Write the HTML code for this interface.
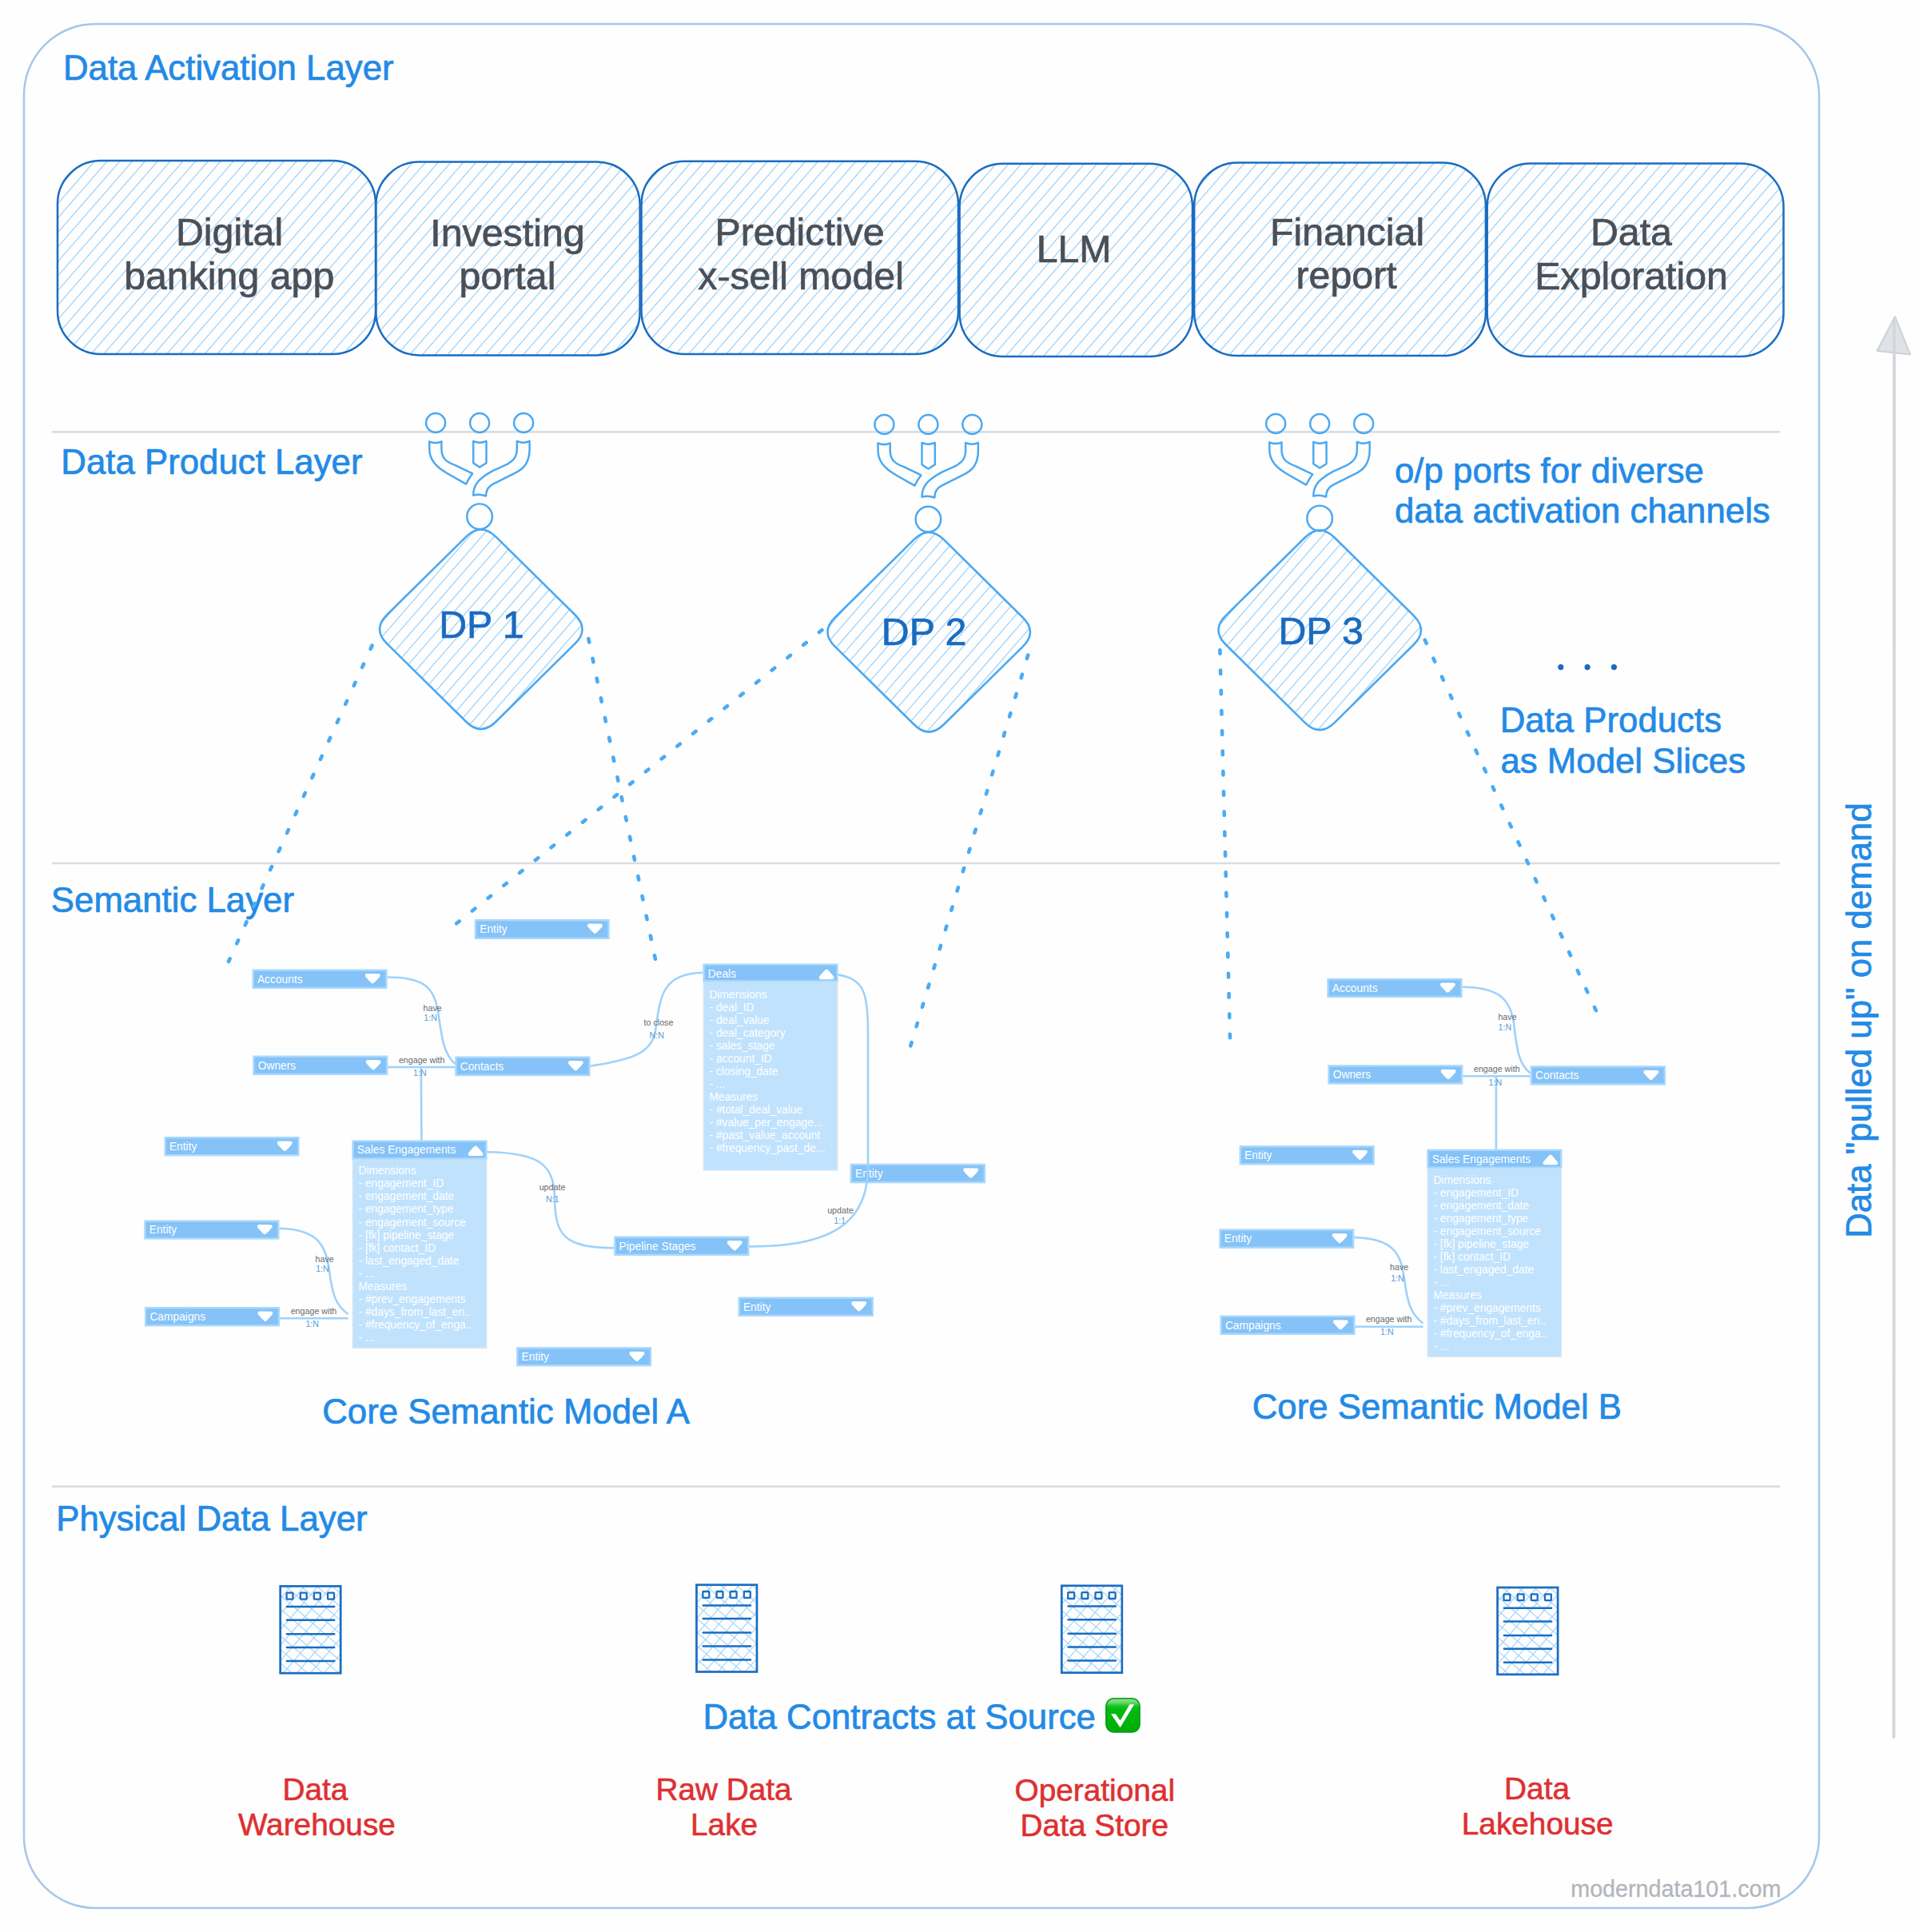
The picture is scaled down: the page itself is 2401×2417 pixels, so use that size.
<!DOCTYPE html><html><head><meta charset="utf-8"><style>html,body{margin:0;padding:0;background:#fefefe;}svg{display:block;font-family:"Liberation Sans",sans-serif;}</style></head><body>
<svg width="2401" height="2417" viewBox="0 0 2401 2417">
<defs>
<linearGradient id="gck" x1="0" y1="0" x2="0" y2="1"><stop offset="0" stop-color="#8fe38f"/><stop offset="0.12" stop-color="#6ad96d"/><stop offset="0.22" stop-color="#1cc42a"/><stop offset="0.3" stop-color="#02bd0e"/><stop offset="1" stop-color="#00ab0c"/></linearGradient>
</defs>
<rect width="2401" height="2417" fill="#fefefe"/>
<rect x="30" y="30" width="2246" height="2357" rx="89" ry="89" fill="none" stroke="#a6c7e9" stroke-width="2.5"/>
<line x1="65" y1="540.4" x2="2227" y2="540.4" stroke="#dadee3" stroke-width="2.6"/>
<line x1="65" y1="1080" x2="2227" y2="1080" stroke="#dadee3" stroke-width="2.6"/>
<line x1="65" y1="1859.6" x2="2227" y2="1859.6" stroke="#dadee3" stroke-width="2.6"/>
<text transform="translate(78.91,99.7) scale(1,1.01)" font-size="43.8" fill="#238ae6" stroke="#238ae6" stroke-width="0.7">Data Activation Layer</text>
<text transform="translate(76.31,592.8) scale(1,1.01)" font-size="43.8" fill="#238ae6" stroke="#238ae6" stroke-width="0.7">Data Product Layer</text>
<text transform="translate(63.84,1140.9) scale(1,1.01)" font-size="43.8" fill="#238ae6" stroke="#238ae6" stroke-width="0.7">Semantic Layer</text>
<text transform="translate(70.28,1915.2) scale(1,1.01)" font-size="43.8" fill="#238ae6" stroke="#238ae6" stroke-width="0.7">Physical Data Layer</text>
<clipPath id="c1"><rect x="72" y="201" width="398.0" height="242.0" rx="54" ry="54"/></clipPath><g clip-path="url(#c1)" stroke="#a2d5fd" stroke-width="1.35"><line x1="57.52" y1="199" x2="-156.32" y2="445"/><line x1="73.31" y1="199" x2="-140.53" y2="445"/><line x1="89.10" y1="199" x2="-124.74" y2="445"/><line x1="104.89" y1="199" x2="-108.95" y2="445"/><line x1="120.68" y1="199" x2="-93.16" y2="445"/><line x1="136.47" y1="199" x2="-77.37" y2="445"/><line x1="152.26" y1="199" x2="-61.58" y2="445"/><line x1="168.05" y1="199" x2="-45.79" y2="445"/><line x1="183.84" y1="199" x2="-30.00" y2="445"/><line x1="199.63" y1="199" x2="-14.21" y2="445"/><line x1="215.42" y1="199" x2="1.58" y2="445"/><line x1="231.21" y1="199" x2="17.37" y2="445"/><line x1="247.00" y1="199" x2="33.16" y2="445"/><line x1="262.79" y1="199" x2="48.95" y2="445"/><line x1="278.58" y1="199" x2="64.74" y2="445"/><line x1="294.37" y1="199" x2="80.53" y2="445"/><line x1="310.16" y1="199" x2="96.32" y2="445"/><line x1="325.95" y1="199" x2="112.11" y2="445"/><line x1="341.74" y1="199" x2="127.90" y2="445"/><line x1="357.53" y1="199" x2="143.69" y2="445"/><line x1="373.32" y1="199" x2="159.48" y2="445"/><line x1="389.11" y1="199" x2="175.27" y2="445"/><line x1="404.90" y1="199" x2="191.06" y2="445"/><line x1="420.69" y1="199" x2="206.85" y2="445"/><line x1="436.48" y1="199" x2="222.64" y2="445"/><line x1="452.27" y1="199" x2="238.43" y2="445"/><line x1="468.06" y1="199" x2="254.22" y2="445"/><line x1="483.85" y1="199" x2="270.01" y2="445"/><line x1="499.64" y1="199" x2="285.80" y2="445"/><line x1="515.43" y1="199" x2="301.59" y2="445"/><line x1="531.22" y1="199" x2="317.38" y2="445"/><line x1="547.01" y1="199" x2="333.17" y2="445"/><line x1="562.80" y1="199" x2="348.96" y2="445"/><line x1="578.59" y1="199" x2="364.75" y2="445"/><line x1="594.38" y1="199" x2="380.54" y2="445"/><line x1="610.17" y1="199" x2="396.33" y2="445"/><line x1="625.96" y1="199" x2="412.12" y2="445"/><line x1="641.75" y1="199" x2="427.91" y2="445"/><line x1="657.54" y1="199" x2="443.70" y2="445"/><line x1="673.33" y1="199" x2="459.49" y2="445"/><line x1="689.12" y1="199" x2="475.28" y2="445"/></g>
<rect x="72" y="201" width="398.0" height="242.0" rx="54" ry="54" fill="none" stroke="#1a6dc2" stroke-width="2.5"/>
<text transform="translate(219.97,307.2) scale(1,1.01)" font-size="48.3" fill="#4a5059" stroke="#4a5059" stroke-width="0.7">Digital</text>
<text transform="translate(155.16,361.9) scale(1,1.01)" font-size="48.3" fill="#4a5059" stroke="#4a5059" stroke-width="0.7">banking app</text>
<clipPath id="c2"><rect x="470.4" y="202.5" width="330.2" height="241.9" rx="54" ry="54"/></clipPath><g clip-path="url(#c2)" stroke="#a2d5fd" stroke-width="1.35"><line x1="455.76" y1="200.5" x2="242.00" y2="446.4"/><line x1="471.55" y1="200.5" x2="257.79" y2="446.4"/><line x1="487.34" y1="200.5" x2="273.58" y2="446.4"/><line x1="503.13" y1="200.5" x2="289.37" y2="446.4"/><line x1="518.92" y1="200.5" x2="305.16" y2="446.4"/><line x1="534.71" y1="200.5" x2="320.95" y2="446.4"/><line x1="550.50" y1="200.5" x2="336.74" y2="446.4"/><line x1="566.29" y1="200.5" x2="352.53" y2="446.4"/><line x1="582.08" y1="200.5" x2="368.32" y2="446.4"/><line x1="597.87" y1="200.5" x2="384.11" y2="446.4"/><line x1="613.66" y1="200.5" x2="399.90" y2="446.4"/><line x1="629.45" y1="200.5" x2="415.69" y2="446.4"/><line x1="645.24" y1="200.5" x2="431.48" y2="446.4"/><line x1="661.03" y1="200.5" x2="447.27" y2="446.4"/><line x1="676.82" y1="200.5" x2="463.06" y2="446.4"/><line x1="692.61" y1="200.5" x2="478.85" y2="446.4"/><line x1="708.40" y1="200.5" x2="494.64" y2="446.4"/><line x1="724.19" y1="200.5" x2="510.43" y2="446.4"/><line x1="739.98" y1="200.5" x2="526.22" y2="446.4"/><line x1="755.77" y1="200.5" x2="542.01" y2="446.4"/><line x1="771.56" y1="200.5" x2="557.80" y2="446.4"/><line x1="787.35" y1="200.5" x2="573.59" y2="446.4"/><line x1="803.14" y1="200.5" x2="589.38" y2="446.4"/><line x1="818.93" y1="200.5" x2="605.17" y2="446.4"/><line x1="834.72" y1="200.5" x2="620.96" y2="446.4"/><line x1="850.51" y1="200.5" x2="636.75" y2="446.4"/><line x1="866.30" y1="200.5" x2="652.54" y2="446.4"/><line x1="882.09" y1="200.5" x2="668.33" y2="446.4"/><line x1="897.88" y1="200.5" x2="684.12" y2="446.4"/><line x1="913.67" y1="200.5" x2="699.91" y2="446.4"/><line x1="929.46" y1="200.5" x2="715.70" y2="446.4"/><line x1="945.25" y1="200.5" x2="731.49" y2="446.4"/><line x1="961.04" y1="200.5" x2="747.28" y2="446.4"/><line x1="976.83" y1="200.5" x2="763.07" y2="446.4"/><line x1="992.62" y1="200.5" x2="778.86" y2="446.4"/><line x1="1008.41" y1="200.5" x2="794.65" y2="446.4"/><line x1="1024.20" y1="200.5" x2="810.44" y2="446.4"/></g>
<rect x="470.4" y="202.5" width="330.2" height="241.9" rx="54" ry="54" fill="none" stroke="#1a6dc2" stroke-width="2.5"/>
<text transform="translate(538.33,307.7) scale(1,1.01)" font-size="48.3" fill="#4a5059" stroke="#4a5059" stroke-width="0.7">Investing</text>
<text transform="translate(574.58,362.3) scale(1,1.01)" font-size="48.3" fill="#4a5059" stroke="#4a5059" stroke-width="0.7">portal</text>
<clipPath id="c3"><rect x="802.5" y="201.8" width="396.5" height="241.2" rx="54" ry="54"/></clipPath><g clip-path="url(#c3)" stroke="#a2d5fd" stroke-width="1.35"><line x1="788.54" y1="199.8" x2="575.39" y2="445"/><line x1="804.33" y1="199.8" x2="591.18" y2="445"/><line x1="820.12" y1="199.8" x2="606.97" y2="445"/><line x1="835.91" y1="199.8" x2="622.76" y2="445"/><line x1="851.70" y1="199.8" x2="638.55" y2="445"/><line x1="867.49" y1="199.8" x2="654.34" y2="445"/><line x1="883.28" y1="199.8" x2="670.13" y2="445"/><line x1="899.07" y1="199.8" x2="685.92" y2="445"/><line x1="914.86" y1="199.8" x2="701.71" y2="445"/><line x1="930.65" y1="199.8" x2="717.50" y2="445"/><line x1="946.44" y1="199.8" x2="733.29" y2="445"/><line x1="962.23" y1="199.8" x2="749.08" y2="445"/><line x1="978.02" y1="199.8" x2="764.87" y2="445"/><line x1="993.81" y1="199.8" x2="780.66" y2="445"/><line x1="1009.60" y1="199.8" x2="796.45" y2="445"/><line x1="1025.39" y1="199.8" x2="812.24" y2="445"/><line x1="1041.18" y1="199.8" x2="828.03" y2="445"/><line x1="1056.97" y1="199.8" x2="843.82" y2="445"/><line x1="1072.76" y1="199.8" x2="859.61" y2="445"/><line x1="1088.55" y1="199.8" x2="875.40" y2="445"/><line x1="1104.34" y1="199.8" x2="891.19" y2="445"/><line x1="1120.13" y1="199.8" x2="906.98" y2="445"/><line x1="1135.92" y1="199.8" x2="922.77" y2="445"/><line x1="1151.71" y1="199.8" x2="938.56" y2="445"/><line x1="1167.50" y1="199.8" x2="954.35" y2="445"/><line x1="1183.29" y1="199.8" x2="970.14" y2="445"/><line x1="1199.08" y1="199.8" x2="985.93" y2="445"/><line x1="1214.87" y1="199.8" x2="1001.72" y2="445"/><line x1="1230.66" y1="199.8" x2="1017.51" y2="445"/><line x1="1246.45" y1="199.8" x2="1033.30" y2="445"/><line x1="1262.24" y1="199.8" x2="1049.09" y2="445"/><line x1="1278.03" y1="199.8" x2="1064.88" y2="445"/><line x1="1293.82" y1="199.8" x2="1080.67" y2="445"/><line x1="1309.61" y1="199.8" x2="1096.46" y2="445"/><line x1="1325.40" y1="199.8" x2="1112.25" y2="445"/><line x1="1341.19" y1="199.8" x2="1128.04" y2="445"/><line x1="1356.98" y1="199.8" x2="1143.83" y2="445"/><line x1="1372.77" y1="199.8" x2="1159.62" y2="445"/><line x1="1388.56" y1="199.8" x2="1175.41" y2="445"/><line x1="1404.35" y1="199.8" x2="1191.20" y2="445"/><line x1="1420.14" y1="199.8" x2="1206.99" y2="445"/></g>
<rect x="802.5" y="201.8" width="396.5" height="241.2" rx="54" ry="54" fill="none" stroke="#1a6dc2" stroke-width="2.5"/>
<text transform="translate(894.57,307.3) scale(1,1.01)" font-size="48.3" fill="#4a5059" stroke="#4a5059" stroke-width="0.7">Predictive</text>
<text transform="translate(873.24,362) scale(1,1.01)" font-size="48.3" fill="#4a5059" stroke="#4a5059" stroke-width="0.7">x-sell model</text>
<clipPath id="c4"><rect x="1200.6" y="204.7" width="291.4" height="241.3" rx="54" ry="54"/></clipPath><g clip-path="url(#c4)" stroke="#a2d5fd" stroke-width="1.35"><line x1="1185.09" y1="202.7" x2="971.85" y2="448"/><line x1="1200.88" y1="202.7" x2="987.64" y2="448"/><line x1="1216.67" y1="202.7" x2="1003.43" y2="448"/><line x1="1232.46" y1="202.7" x2="1019.22" y2="448"/><line x1="1248.25" y1="202.7" x2="1035.01" y2="448"/><line x1="1264.04" y1="202.7" x2="1050.80" y2="448"/><line x1="1279.83" y1="202.7" x2="1066.59" y2="448"/><line x1="1295.62" y1="202.7" x2="1082.38" y2="448"/><line x1="1311.41" y1="202.7" x2="1098.17" y2="448"/><line x1="1327.20" y1="202.7" x2="1113.96" y2="448"/><line x1="1342.99" y1="202.7" x2="1129.75" y2="448"/><line x1="1358.78" y1="202.7" x2="1145.54" y2="448"/><line x1="1374.57" y1="202.7" x2="1161.33" y2="448"/><line x1="1390.36" y1="202.7" x2="1177.12" y2="448"/><line x1="1406.15" y1="202.7" x2="1192.91" y2="448"/><line x1="1421.94" y1="202.7" x2="1208.70" y2="448"/><line x1="1437.73" y1="202.7" x2="1224.49" y2="448"/><line x1="1453.52" y1="202.7" x2="1240.28" y2="448"/><line x1="1469.31" y1="202.7" x2="1256.07" y2="448"/><line x1="1485.10" y1="202.7" x2="1271.86" y2="448"/><line x1="1500.89" y1="202.7" x2="1287.65" y2="448"/><line x1="1516.68" y1="202.7" x2="1303.44" y2="448"/><line x1="1532.47" y1="202.7" x2="1319.23" y2="448"/><line x1="1548.26" y1="202.7" x2="1335.02" y2="448"/><line x1="1564.05" y1="202.7" x2="1350.81" y2="448"/><line x1="1579.84" y1="202.7" x2="1366.60" y2="448"/><line x1="1595.63" y1="202.7" x2="1382.39" y2="448"/><line x1="1611.42" y1="202.7" x2="1398.18" y2="448"/><line x1="1627.21" y1="202.7" x2="1413.97" y2="448"/><line x1="1643.00" y1="202.7" x2="1429.76" y2="448"/><line x1="1658.79" y1="202.7" x2="1445.55" y2="448"/><line x1="1674.58" y1="202.7" x2="1461.34" y2="448"/><line x1="1690.37" y1="202.7" x2="1477.13" y2="448"/><line x1="1706.16" y1="202.7" x2="1492.92" y2="448"/><line x1="1721.95" y1="202.7" x2="1508.71" y2="448"/></g>
<rect x="1200.6" y="204.7" width="291.4" height="241.3" rx="54" ry="54" fill="none" stroke="#1a6dc2" stroke-width="2.5"/>
<text transform="translate(1296.65,328) scale(1,1.01)" font-size="48.3" fill="#4a5059" stroke="#4a5059" stroke-width="0.7">LLM</text>
<clipPath id="c5"><rect x="1494.2" y="203.5" width="364.7" height="241.6" rx="54" ry="54"/></clipPath><g clip-path="url(#c5)" stroke="#a2d5fd" stroke-width="1.35"><line x1="1480.46" y1="201.5" x2="1266.96" y2="447.1"/><line x1="1496.25" y1="201.5" x2="1282.75" y2="447.1"/><line x1="1512.04" y1="201.5" x2="1298.54" y2="447.1"/><line x1="1527.83" y1="201.5" x2="1314.33" y2="447.1"/><line x1="1543.62" y1="201.5" x2="1330.12" y2="447.1"/><line x1="1559.41" y1="201.5" x2="1345.91" y2="447.1"/><line x1="1575.20" y1="201.5" x2="1361.70" y2="447.1"/><line x1="1590.99" y1="201.5" x2="1377.49" y2="447.1"/><line x1="1606.78" y1="201.5" x2="1393.28" y2="447.1"/><line x1="1622.57" y1="201.5" x2="1409.07" y2="447.1"/><line x1="1638.36" y1="201.5" x2="1424.86" y2="447.1"/><line x1="1654.15" y1="201.5" x2="1440.65" y2="447.1"/><line x1="1669.94" y1="201.5" x2="1456.44" y2="447.1"/><line x1="1685.73" y1="201.5" x2="1472.23" y2="447.1"/><line x1="1701.52" y1="201.5" x2="1488.02" y2="447.1"/><line x1="1717.31" y1="201.5" x2="1503.81" y2="447.1"/><line x1="1733.10" y1="201.5" x2="1519.60" y2="447.1"/><line x1="1748.89" y1="201.5" x2="1535.39" y2="447.1"/><line x1="1764.68" y1="201.5" x2="1551.18" y2="447.1"/><line x1="1780.47" y1="201.5" x2="1566.97" y2="447.1"/><line x1="1796.26" y1="201.5" x2="1582.76" y2="447.1"/><line x1="1812.05" y1="201.5" x2="1598.55" y2="447.1"/><line x1="1827.84" y1="201.5" x2="1614.34" y2="447.1"/><line x1="1843.63" y1="201.5" x2="1630.13" y2="447.1"/><line x1="1859.42" y1="201.5" x2="1645.92" y2="447.1"/><line x1="1875.21" y1="201.5" x2="1661.71" y2="447.1"/><line x1="1891.00" y1="201.5" x2="1677.50" y2="447.1"/><line x1="1906.79" y1="201.5" x2="1693.29" y2="447.1"/><line x1="1922.58" y1="201.5" x2="1709.08" y2="447.1"/><line x1="1938.37" y1="201.5" x2="1724.87" y2="447.1"/><line x1="1954.16" y1="201.5" x2="1740.66" y2="447.1"/><line x1="1969.95" y1="201.5" x2="1756.45" y2="447.1"/><line x1="1985.74" y1="201.5" x2="1772.24" y2="447.1"/><line x1="2001.53" y1="201.5" x2="1788.03" y2="447.1"/><line x1="2017.32" y1="201.5" x2="1803.82" y2="447.1"/><line x1="2033.11" y1="201.5" x2="1819.61" y2="447.1"/><line x1="2048.90" y1="201.5" x2="1835.40" y2="447.1"/><line x1="2064.69" y1="201.5" x2="1851.19" y2="447.1"/><line x1="2080.48" y1="201.5" x2="1866.98" y2="447.1"/></g>
<rect x="1494.2" y="203.5" width="364.7" height="241.6" rx="54" ry="54" fill="none" stroke="#1a6dc2" stroke-width="2.5"/>
<text transform="translate(1588.92,306.5) scale(1,1.01)" font-size="48.3" fill="#4a5059" stroke="#4a5059" stroke-width="0.7">Financial</text>
<text transform="translate(1621.53,361.3) scale(1,1.01)" font-size="48.3" fill="#4a5059" stroke="#4a5059" stroke-width="0.7">report</text>
<clipPath id="c6"><rect x="1860.7" y="204.6" width="370.8" height="241.4" rx="54" ry="54"/></clipPath><g clip-path="url(#c6)" stroke="#a2d5fd" stroke-width="1.35"><line x1="1844.68" y1="202.6" x2="1631.36" y2="448"/><line x1="1860.47" y1="202.6" x2="1647.15" y2="448"/><line x1="1876.26" y1="202.6" x2="1662.94" y2="448"/><line x1="1892.05" y1="202.6" x2="1678.73" y2="448"/><line x1="1907.84" y1="202.6" x2="1694.52" y2="448"/><line x1="1923.63" y1="202.6" x2="1710.31" y2="448"/><line x1="1939.42" y1="202.6" x2="1726.10" y2="448"/><line x1="1955.21" y1="202.6" x2="1741.89" y2="448"/><line x1="1971.00" y1="202.6" x2="1757.68" y2="448"/><line x1="1986.79" y1="202.6" x2="1773.47" y2="448"/><line x1="2002.58" y1="202.6" x2="1789.26" y2="448"/><line x1="2018.37" y1="202.6" x2="1805.05" y2="448"/><line x1="2034.16" y1="202.6" x2="1820.84" y2="448"/><line x1="2049.95" y1="202.6" x2="1836.63" y2="448"/><line x1="2065.74" y1="202.6" x2="1852.42" y2="448"/><line x1="2081.53" y1="202.6" x2="1868.21" y2="448"/><line x1="2097.32" y1="202.6" x2="1884.00" y2="448"/><line x1="2113.11" y1="202.6" x2="1899.79" y2="448"/><line x1="2128.90" y1="202.6" x2="1915.58" y2="448"/><line x1="2144.69" y1="202.6" x2="1931.37" y2="448"/><line x1="2160.48" y1="202.6" x2="1947.16" y2="448"/><line x1="2176.27" y1="202.6" x2="1962.95" y2="448"/><line x1="2192.06" y1="202.6" x2="1978.74" y2="448"/><line x1="2207.85" y1="202.6" x2="1994.53" y2="448"/><line x1="2223.64" y1="202.6" x2="2010.32" y2="448"/><line x1="2239.43" y1="202.6" x2="2026.11" y2="448"/><line x1="2255.22" y1="202.6" x2="2041.90" y2="448"/><line x1="2271.01" y1="202.6" x2="2057.69" y2="448"/><line x1="2286.80" y1="202.6" x2="2073.48" y2="448"/><line x1="2302.59" y1="202.6" x2="2089.27" y2="448"/><line x1="2318.38" y1="202.6" x2="2105.06" y2="448"/><line x1="2334.17" y1="202.6" x2="2120.85" y2="448"/><line x1="2349.96" y1="202.6" x2="2136.64" y2="448"/><line x1="2365.75" y1="202.6" x2="2152.43" y2="448"/><line x1="2381.54" y1="202.6" x2="2168.22" y2="448"/><line x1="2397.33" y1="202.6" x2="2184.01" y2="448"/><line x1="2413.12" y1="202.6" x2="2199.80" y2="448"/><line x1="2428.91" y1="202.6" x2="2215.59" y2="448"/><line x1="2444.70" y1="202.6" x2="2231.38" y2="448"/><line x1="2460.49" y1="202.6" x2="2247.17" y2="448"/></g>
<rect x="1860.7" y="204.6" width="370.8" height="241.4" rx="54" ry="54" fill="none" stroke="#1a6dc2" stroke-width="2.5"/>
<text transform="translate(1989.96,306.8) scale(1,1.01)" font-size="48.3" fill="#4a5059" stroke="#4a5059" stroke-width="0.7">Data</text>
<text transform="translate(1920.32,361.6) scale(1,1.01)" font-size="48.3" fill="#4a5059" stroke="#4a5059" stroke-width="0.7">Exploration</text>
<line x1="465.5" y1="807.7" x2="286" y2="1203" stroke="#4aabf5" stroke-width="4.6" stroke-linecap="round" stroke-dasharray="4.5 20.8"/>
<line x1="736.3" y1="799" x2="820" y2="1200.2" stroke="#4aabf5" stroke-width="4.6" stroke-linecap="round" stroke-dasharray="4.5 20.8"/>
<line x1="1028.4" y1="788.2" x2="566.2" y2="1159.3" stroke="#4aabf5" stroke-width="4.6" stroke-linecap="round" stroke-dasharray="4.5 20.8"/>
<line x1="1286.2" y1="819.5" x2="1139.2" y2="1308.8" stroke="#4aabf5" stroke-width="4.6" stroke-linecap="round" stroke-dasharray="4.5 20.8"/>
<line x1="1526.4" y1="813.2" x2="1539" y2="1298.8" stroke="#4aabf5" stroke-width="4.6" stroke-linecap="round" stroke-dasharray="4.5 20.8"/>
<line x1="1782.8" y1="800.7" x2="1998.4" y2="1267.5" stroke="#4aabf5" stroke-width="4.6" stroke-linecap="round" stroke-dasharray="4.5 20.8"/>
<g transform="translate(600.1,529)" fill="none" stroke="#4aa8f2" stroke-width="2.45" stroke-linejoin="round"><circle cx="-55" cy="0" r="12"/><circle cx="0" cy="0" r="12"/><circle cx="55" cy="0" r="12"/><path d="M-62.9,23.3 Q-55,26.8 -47.7,23.3 L-47.7,32.6 C-47.7,44 -42,49 -30.8,52.8 L-9,63.4 Q-13.5,69 -16.9,76.6 L-40,63.5 C-55,55 -62.9,46 -62.9,32 Z"/><path d="M-7.9,22.9 Q0,26.8 8.4,22.9 L8.4,50.2 L0,55.5 L-7.9,50.2 Z"/><path d="M46.7,22.9 Q54.6,26.8 62.5,22.9 L62.5,32.6 C62.5,50 55,58 43.1,63.4 L16.7,76.6 C10,80 7.9,85 7.9,91.5 Q0,88.3 -7.9,90.7 C-7.9,78 -2,70 16.7,59.9 L34.3,51.9 C43,47 46.7,42 46.7,32.6 Z"/><circle cx="0" cy="117.20000000000005" r="15.8"/></g>
<g transform="translate(1161.4,531)" fill="none" stroke="#4aa8f2" stroke-width="2.45" stroke-linejoin="round"><circle cx="-55" cy="0" r="12"/><circle cx="0" cy="0" r="12"/><circle cx="55" cy="0" r="12"/><path d="M-62.9,23.3 Q-55,26.8 -47.7,23.3 L-47.7,32.6 C-47.7,44 -42,49 -30.8,52.8 L-9,63.4 Q-13.5,69 -16.9,76.6 L-40,63.5 C-55,55 -62.9,46 -62.9,32 Z"/><path d="M-7.9,22.9 Q0,26.8 8.4,22.9 L8.4,50.2 L0,55.5 L-7.9,50.2 Z"/><path d="M46.7,22.9 Q54.6,26.8 62.5,22.9 L62.5,32.6 C62.5,50 55,58 43.1,63.4 L16.7,76.6 C10,80 7.9,85 7.9,91.5 Q0,88.3 -7.9,90.7 C-7.9,78 -2,70 16.7,59.9 L34.3,51.9 C43,47 46.7,42 46.7,32.6 Z"/><circle cx="0" cy="118.60000000000002" r="15.8"/></g>
<g transform="translate(1651.2,530)" fill="none" stroke="#4aa8f2" stroke-width="2.45" stroke-linejoin="round"><circle cx="-55" cy="0" r="12"/><circle cx="0" cy="0" r="12"/><circle cx="55" cy="0" r="12"/><path d="M-62.9,23.3 Q-55,26.8 -47.7,23.3 L-47.7,32.6 C-47.7,44 -42,49 -30.8,52.8 L-9,63.4 Q-13.5,69 -16.9,76.6 L-40,63.5 C-55,55 -62.9,46 -62.9,32 Z"/><path d="M-7.9,22.9 Q0,26.8 8.4,22.9 L8.4,50.2 L0,55.5 L-7.9,50.2 Z"/><path d="M46.7,22.9 Q54.6,26.8 62.5,22.9 L62.5,32.6 C62.5,50 55,58 43.1,63.4 L16.7,76.6 C10,80 7.9,85 7.9,91.5 Q0,88.3 -7.9,90.7 C-7.9,78 -2,70 16.7,59.9 L34.3,51.9 C43,47 46.7,42 46.7,32.6 Z"/><circle cx="0" cy="118.39999999999998" r="15.8"/></g>
<clipPath id="c7"><path d="M583.3,671.4 Q601.8,653.2 620.3,671.4 L719.3,769.0 Q737.8,787.2 719.3,805.4 L620.3,903.0 Q601.8,921.2 583.3,903.0 L484.3,805.4 Q465.8,787.2 484.3,769.0 Z"/></clipPath><g clip-path="url(#c7)" stroke="#a2d5fd" stroke-width="1.35"><line x1="462.25" y1="651.2" x2="225.80" y2="923.2"/><line x1="478.04" y1="651.2" x2="241.59" y2="923.2"/><line x1="493.83" y1="651.2" x2="257.38" y2="923.2"/><line x1="509.62" y1="651.2" x2="273.17" y2="923.2"/><line x1="525.41" y1="651.2" x2="288.96" y2="923.2"/><line x1="541.20" y1="651.2" x2="304.75" y2="923.2"/><line x1="556.99" y1="651.2" x2="320.54" y2="923.2"/><line x1="572.78" y1="651.2" x2="336.33" y2="923.2"/><line x1="588.57" y1="651.2" x2="352.12" y2="923.2"/><line x1="604.36" y1="651.2" x2="367.91" y2="923.2"/><line x1="620.15" y1="651.2" x2="383.70" y2="923.2"/><line x1="635.94" y1="651.2" x2="399.49" y2="923.2"/><line x1="651.73" y1="651.2" x2="415.28" y2="923.2"/><line x1="667.52" y1="651.2" x2="431.07" y2="923.2"/><line x1="683.31" y1="651.2" x2="446.86" y2="923.2"/><line x1="699.10" y1="651.2" x2="462.65" y2="923.2"/><line x1="714.89" y1="651.2" x2="478.44" y2="923.2"/><line x1="730.68" y1="651.2" x2="494.23" y2="923.2"/><line x1="746.47" y1="651.2" x2="510.02" y2="923.2"/><line x1="762.26" y1="651.2" x2="525.81" y2="923.2"/><line x1="778.05" y1="651.2" x2="541.60" y2="923.2"/><line x1="793.84" y1="651.2" x2="557.39" y2="923.2"/><line x1="809.63" y1="651.2" x2="573.18" y2="923.2"/><line x1="825.42" y1="651.2" x2="588.97" y2="923.2"/><line x1="841.21" y1="651.2" x2="604.76" y2="923.2"/><line x1="857.00" y1="651.2" x2="620.55" y2="923.2"/><line x1="872.79" y1="651.2" x2="636.34" y2="923.2"/><line x1="888.58" y1="651.2" x2="652.13" y2="923.2"/><line x1="904.37" y1="651.2" x2="667.92" y2="923.2"/><line x1="920.16" y1="651.2" x2="683.71" y2="923.2"/><line x1="935.95" y1="651.2" x2="699.50" y2="923.2"/><line x1="951.74" y1="651.2" x2="715.29" y2="923.2"/><line x1="967.53" y1="651.2" x2="731.08" y2="923.2"/><line x1="983.32" y1="651.2" x2="746.87" y2="923.2"/></g>
<path d="M583.3,671.4 Q601.8,653.2 620.3,671.4 L719.3,769.0 Q737.8,787.2 719.3,805.4 L620.3,903.0 Q601.8,921.2 583.3,903.0 L484.3,805.4 Q465.8,787.2 484.3,769.0 Z" fill="none" stroke="#4aa8f2" stroke-width="2.6"/>
<text transform="translate(549.15,797.6) scale(1,1.01)" font-size="48.3" fill="#1a6bbf" stroke="#1a6bbf" stroke-width="0.7">DP 1</text>
<clipPath id="c8"><path d="M1143.7,674.9 Q1162.2,656.7 1180.7,674.9 L1279.7,772.5 Q1298.2,790.7 1279.7,808.9 L1180.7,906.5 Q1162.2,924.7 1143.7,906.5 L1044.7,808.9 Q1026.2,790.7 1044.7,772.5 Z"/></clipPath><g clip-path="url(#c8)" stroke="#a2d5fd" stroke-width="1.35"><line x1="1023.30" y1="654.7" x2="786.85" y2="926.7"/><line x1="1039.09" y1="654.7" x2="802.64" y2="926.7"/><line x1="1054.88" y1="654.7" x2="818.43" y2="926.7"/><line x1="1070.67" y1="654.7" x2="834.22" y2="926.7"/><line x1="1086.46" y1="654.7" x2="850.01" y2="926.7"/><line x1="1102.25" y1="654.7" x2="865.80" y2="926.7"/><line x1="1118.04" y1="654.7" x2="881.59" y2="926.7"/><line x1="1133.83" y1="654.7" x2="897.38" y2="926.7"/><line x1="1149.62" y1="654.7" x2="913.17" y2="926.7"/><line x1="1165.41" y1="654.7" x2="928.96" y2="926.7"/><line x1="1181.20" y1="654.7" x2="944.75" y2="926.7"/><line x1="1196.99" y1="654.7" x2="960.54" y2="926.7"/><line x1="1212.78" y1="654.7" x2="976.33" y2="926.7"/><line x1="1228.57" y1="654.7" x2="992.12" y2="926.7"/><line x1="1244.36" y1="654.7" x2="1007.91" y2="926.7"/><line x1="1260.15" y1="654.7" x2="1023.70" y2="926.7"/><line x1="1275.94" y1="654.7" x2="1039.49" y2="926.7"/><line x1="1291.73" y1="654.7" x2="1055.28" y2="926.7"/><line x1="1307.52" y1="654.7" x2="1071.07" y2="926.7"/><line x1="1323.31" y1="654.7" x2="1086.86" y2="926.7"/><line x1="1339.10" y1="654.7" x2="1102.65" y2="926.7"/><line x1="1354.89" y1="654.7" x2="1118.44" y2="926.7"/><line x1="1370.68" y1="654.7" x2="1134.23" y2="926.7"/><line x1="1386.47" y1="654.7" x2="1150.02" y2="926.7"/><line x1="1402.26" y1="654.7" x2="1165.81" y2="926.7"/><line x1="1418.05" y1="654.7" x2="1181.60" y2="926.7"/><line x1="1433.84" y1="654.7" x2="1197.39" y2="926.7"/><line x1="1449.63" y1="654.7" x2="1213.18" y2="926.7"/><line x1="1465.42" y1="654.7" x2="1228.97" y2="926.7"/><line x1="1481.21" y1="654.7" x2="1244.76" y2="926.7"/><line x1="1497.00" y1="654.7" x2="1260.55" y2="926.7"/><line x1="1512.79" y1="654.7" x2="1276.34" y2="926.7"/><line x1="1528.58" y1="654.7" x2="1292.13" y2="926.7"/><line x1="1544.37" y1="654.7" x2="1307.92" y2="926.7"/></g>
<path d="M1143.7,674.9 Q1162.2,656.7 1180.7,674.9 L1279.7,772.5 Q1298.2,790.7 1279.7,808.9 L1180.7,906.5 Q1162.2,924.7 1143.7,906.5 L1044.7,808.9 Q1026.2,790.7 1044.7,772.5 Z" fill="none" stroke="#4aa8f2" stroke-width="2.6"/>
<text transform="translate(1102.85,807.4) scale(1,1.01)" font-size="48.3" fill="#1a6bbf" stroke="#1a6bbf" stroke-width="0.7">DP 2</text>
<clipPath id="c9"><path d="M1632.7,672.5 Q1651.2,654.3 1669.7,672.5 L1768.7,770.1 Q1787.2,788.3 1768.7,806.5 L1669.7,904.1 Q1651.2,922.3 1632.7,904.1 L1533.7,806.5 Q1515.2,788.3 1533.7,770.1 Z"/></clipPath><g clip-path="url(#c9)" stroke="#a2d5fd" stroke-width="1.35"><line x1="1512.38" y1="652.3" x2="1275.94" y2="924.3"/><line x1="1528.17" y1="652.3" x2="1291.73" y2="924.3"/><line x1="1543.96" y1="652.3" x2="1307.52" y2="924.3"/><line x1="1559.75" y1="652.3" x2="1323.31" y2="924.3"/><line x1="1575.54" y1="652.3" x2="1339.10" y2="924.3"/><line x1="1591.33" y1="652.3" x2="1354.89" y2="924.3"/><line x1="1607.12" y1="652.3" x2="1370.68" y2="924.3"/><line x1="1622.91" y1="652.3" x2="1386.47" y2="924.3"/><line x1="1638.70" y1="652.3" x2="1402.26" y2="924.3"/><line x1="1654.49" y1="652.3" x2="1418.05" y2="924.3"/><line x1="1670.28" y1="652.3" x2="1433.84" y2="924.3"/><line x1="1686.07" y1="652.3" x2="1449.63" y2="924.3"/><line x1="1701.86" y1="652.3" x2="1465.42" y2="924.3"/><line x1="1717.65" y1="652.3" x2="1481.21" y2="924.3"/><line x1="1733.44" y1="652.3" x2="1497.00" y2="924.3"/><line x1="1749.23" y1="652.3" x2="1512.79" y2="924.3"/><line x1="1765.02" y1="652.3" x2="1528.58" y2="924.3"/><line x1="1780.81" y1="652.3" x2="1544.37" y2="924.3"/><line x1="1796.60" y1="652.3" x2="1560.16" y2="924.3"/><line x1="1812.39" y1="652.3" x2="1575.95" y2="924.3"/><line x1="1828.18" y1="652.3" x2="1591.74" y2="924.3"/><line x1="1843.97" y1="652.3" x2="1607.53" y2="924.3"/><line x1="1859.76" y1="652.3" x2="1623.32" y2="924.3"/><line x1="1875.55" y1="652.3" x2="1639.11" y2="924.3"/><line x1="1891.34" y1="652.3" x2="1654.90" y2="924.3"/><line x1="1907.13" y1="652.3" x2="1670.69" y2="924.3"/><line x1="1922.92" y1="652.3" x2="1686.48" y2="924.3"/><line x1="1938.71" y1="652.3" x2="1702.27" y2="924.3"/><line x1="1954.50" y1="652.3" x2="1718.06" y2="924.3"/><line x1="1970.29" y1="652.3" x2="1733.85" y2="924.3"/><line x1="1986.08" y1="652.3" x2="1749.64" y2="924.3"/><line x1="2001.87" y1="652.3" x2="1765.43" y2="924.3"/><line x1="2017.66" y1="652.3" x2="1781.22" y2="924.3"/><line x1="2033.45" y1="652.3" x2="1797.01" y2="924.3"/></g>
<path d="M1632.7,672.5 Q1651.2,654.3 1669.7,672.5 L1768.7,770.1 Q1787.2,788.3 1768.7,806.5 L1669.7,904.1 Q1651.2,922.3 1632.7,904.1 L1533.7,806.5 Q1515.2,788.3 1533.7,770.1 Z" fill="none" stroke="#4aa8f2" stroke-width="2.6"/>
<text transform="translate(1599.40,805.7) scale(1,1.01)" font-size="48.3" fill="#1a6bbf" stroke="#1a6bbf" stroke-width="0.7">DP 3</text>
<text transform="translate(1745.02,603.7) scale(1,1.01)" font-size="43.8" fill="#238ae6" stroke="#238ae6" stroke-width="0.7">o/p ports for diverse</text>
<text transform="translate(1745.01,653.5) scale(1,1.01)" font-size="43.8" fill="#238ae6" stroke="#238ae6" stroke-width="0.7">data activation channels</text>
<circle cx="1952.8" cy="834.6" r="3.6" fill="#1a6bbf"/>
<circle cx="1986.1" cy="834.6" r="3.6" fill="#1a6bbf"/>
<circle cx="2019.4" cy="834.6" r="3.6" fill="#1a6bbf"/>
<text transform="translate(1876.63,916.4) scale(1,1.01)" font-size="43.8" fill="#238ae6" stroke="#238ae6" stroke-width="0.7">Data Products</text>
<text transform="translate(1877.43,967.3) scale(1,1.01)" font-size="43.8" fill="#238ae6" stroke="#238ae6" stroke-width="0.7">as Model Slices</text>
<path d="M484.7,1222.5 C530,1222.5 543,1235 548,1265 C553,1300 555,1318 569.5,1331" fill="none" stroke="#9ed2fc" stroke-width="2.6"/>
<path d="M485.3,1335 L569.3,1335" fill="none" stroke="#9ed2fc" stroke-width="2.6"/>
<path d="M526.8,1335 L527.4,1427" fill="none" stroke="#9ed2fc" stroke-width="2.6"/>
<path d="M738.6,1333.6 C790,1326 815,1318 820,1290 C826,1250 826,1218 879.4,1216.8" fill="none" stroke="#9ed2fc" stroke-width="2.6"/>
<path d="M609.6,1441.2 C680,1442 693,1460 694,1500 C695,1545 705,1561 768.3,1561.3" fill="none" stroke="#9ed2fc" stroke-width="2.6"/>
<path d="M349.5,1536.8 C400,1538 408,1560 412,1590 C416,1620 420,1633 435.6,1644" fill="none" stroke="#9ed2fc" stroke-width="2.6"/>
<path d="M350.2,1649.2 L435.6,1649.2" fill="none" stroke="#9ed2fc" stroke-width="2.6"/>
<path d="M1829.7,1234.7 C1875,1235 1890,1250 1894,1280 C1898,1315 1900,1330 1914.3,1342.5" fill="none" stroke="#9ed2fc" stroke-width="2.6"/>
<path d="M1830.3,1346.2 L1914.3,1346.2" fill="none" stroke="#9ed2fc" stroke-width="2.6"/>
<path d="M1871.9,1346.2 L1871.9,1437.8" fill="none" stroke="#9ed2fc" stroke-width="2.6"/>
<path d="M1694.4,1548.1 C1745,1549 1753,1570 1757,1600 C1761,1630 1765,1644 1780.6,1655.5" fill="none" stroke="#9ed2fc" stroke-width="2.6"/>
<path d="M1695.4,1659.7 L1780.6,1659.7" fill="none" stroke="#9ed2fc" stroke-width="2.6"/>
<text x="541.1" y="1264.7" font-size="10.7" fill="#666a70" text-anchor="middle" >have</text>
<text x="538.6" y="1277" font-size="10.7" fill="#5b9bd5" text-anchor="middle" >1:N</text>
<text x="527.7" y="1330" font-size="10.7" fill="#666a70" text-anchor="middle" >engage with</text>
<text x="525.4" y="1345.8" font-size="10.7" fill="#5b9bd5" text-anchor="middle" >1:N</text>
<text x="824" y="1283.2" font-size="10.7" fill="#666a70" text-anchor="middle" >to close</text>
<text x="821.8" y="1298.9" font-size="10.7" fill="#5b9bd5" text-anchor="middle" >N:N</text>
<text x="691" y="1489.4" font-size="10.7" fill="#666a70" text-anchor="middle" >update</text>
<text x="691.2" y="1504" font-size="10.7" fill="#5b9bd5" text-anchor="middle" >N:1</text>
<text x="1051.5" y="1518" font-size="10.7" fill="#666a70" text-anchor="middle" >update</text>
<text x="1050.8" y="1530.6" font-size="10.7" fill="#5b9bd5" text-anchor="middle" >1:1</text>
<text x="406.2" y="1578.8" font-size="10.7" fill="#666a70" text-anchor="middle" >have</text>
<text x="403.5" y="1590.8" font-size="10.7" fill="#5b9bd5" text-anchor="middle" >1:N</text>
<text x="392.5" y="1643.7" font-size="10.7" fill="#666a70" text-anchor="middle" >engage with</text>
<text x="390.7" y="1660" font-size="10.7" fill="#5b9bd5" text-anchor="middle" >1:N</text>
<text x="1886" y="1276.3" font-size="10.7" fill="#666a70" text-anchor="middle" >have</text>
<text x="1882.9" y="1288.8" font-size="10.7" fill="#5b9bd5" text-anchor="middle" >1:N</text>
<text x="1872.8" y="1341" font-size="10.7" fill="#666a70" text-anchor="middle" >engage with</text>
<text x="1870.8" y="1357.6" font-size="10.7" fill="#5b9bd5" text-anchor="middle" >1:N</text>
<text x="1750.7" y="1589.4" font-size="10.7" fill="#666a70" text-anchor="middle" >have</text>
<text x="1748.5" y="1602.5" font-size="10.7" fill="#5b9bd5" text-anchor="middle" >1:N</text>
<text x="1737.7" y="1654.4" font-size="10.7" fill="#666a70" text-anchor="middle" >engage with</text>
<text x="1735.4" y="1670" font-size="10.7" fill="#5b9bd5" text-anchor="middle" >1:N</text>
<rect x="595.0" y="1151.2" width="166.5" height="22.6" fill="#84c2f8" stroke="#a9d8fc" stroke-width="2.4"/>
<text x="600.1999999999999" y="1167" font-size="13.8" fill="#ffffff" text-anchor="start" >Entity</text>
<path d="M737.0,1155.6 L751.8,1155.8 Q754.5,1156.1999999999998 753.6,1159.0 Q750.0,1163.6 746.0,1167.1999999999998 Q744.4,1168.6 742.8,1167.1999999999998 Q738.8,1163.6 735.3,1159.1999999999998 Q734.3,1156.1999999999998 737.0,1155.6 Z" fill="#ffffff"/>
<rect x="316.7" y="1213.7" width="166.7" height="22.1" fill="#84c2f8" stroke="#a9d8fc" stroke-width="2.4"/>
<text x="321.9" y="1229.5" font-size="13.8" fill="#ffffff" text-anchor="start" >Accounts</text>
<path d="M458.90000000000003,1218.1 L473.70000000000005,1218.3 Q476.40000000000003,1218.6999999999998 475.50000000000006,1221.5 Q471.90000000000003,1226.1 467.90000000000003,1229.6999999999998 Q466.3,1231.1 464.70000000000005,1229.6999999999998 Q460.70000000000005,1226.1 457.20000000000005,1221.6999999999998 Q456.20000000000005,1218.6999999999998 458.90000000000003,1218.1 Z" fill="#ffffff"/>
<rect x="317.5" y="1321.7" width="166.7" height="22.1" fill="#84c2f8" stroke="#a9d8fc" stroke-width="2.4"/>
<text x="322.7" y="1337.5" font-size="13.8" fill="#ffffff" text-anchor="start" >Owners</text>
<path d="M459.7,1326.1 L474.5,1326.3 Q477.2,1326.6999999999998 476.3,1329.5 Q472.7,1334.1 468.7,1337.6999999999998 Q467.09999999999997,1339.1 465.5,1337.6999999999998 Q461.5,1334.1 458.0,1329.6999999999998 Q457.0,1326.6999999999998 459.7,1326.1 Z" fill="#ffffff"/>
<rect x="570.5" y="1322.7" width="166.9" height="22.4" fill="#84c2f8" stroke="#a9d8fc" stroke-width="2.4"/>
<text x="575.6999999999999" y="1338.5" font-size="13.8" fill="#ffffff" text-anchor="start" >Contacts</text>
<path d="M712.9,1327.1 L727.6999999999999,1327.3 Q730.4,1327.6999999999998 729.5,1330.5 Q725.9,1335.1 721.9,1338.6999999999998 Q720.3,1340.1 718.6999999999999,1338.6999999999998 Q714.6999999999999,1335.1 711.1999999999999,1330.6999999999998 Q710.1999999999999,1327.6999999999998 712.9,1327.1 Z" fill="#ffffff"/>
<rect x="206.7" y="1423.2" width="166.7" height="22.0" fill="#84c2f8" stroke="#a9d8fc" stroke-width="2.4"/>
<text x="211.9" y="1439" font-size="13.8" fill="#ffffff" text-anchor="start" >Entity</text>
<path d="M348.90000000000003,1427.6 L363.70000000000005,1427.8 Q366.40000000000003,1428.1999999999998 365.50000000000006,1431.0 Q361.90000000000003,1435.6 357.90000000000003,1439.1999999999998 Q356.3,1440.6 354.70000000000005,1439.1999999999998 Q350.70000000000005,1435.6 347.20000000000005,1431.1999999999998 Q346.20000000000005,1428.1999999999998 348.90000000000003,1427.6 Z" fill="#ffffff"/>
<rect x="181.5" y="1527.6000000000001" width="166.8" height="21.8" fill="#84c2f8" stroke="#a9d8fc" stroke-width="2.4"/>
<text x="186.70000000000002" y="1543.4" font-size="13.8" fill="#ffffff" text-anchor="start" >Entity</text>
<path d="M323.8,1532.0 L338.6,1532.2 Q341.3,1532.6 340.40000000000003,1535.4 Q336.8,1540.0 332.8,1543.6 Q331.2,1545.0 329.6,1543.6 Q325.6,1540.0 322.1,1535.6 Q321.1,1532.6 323.8,1532.0 Z" fill="#ffffff"/>
<rect x="182.2" y="1636.2" width="166.8" height="22.0" fill="#84c2f8" stroke="#a9d8fc" stroke-width="2.4"/>
<text x="187.4" y="1652" font-size="13.8" fill="#ffffff" text-anchor="start" >Campaigns</text>
<path d="M324.5,1640.6 L339.3,1640.8 Q342.0,1641.1999999999998 341.1,1644.0 Q337.5,1648.6 333.5,1652.1999999999998 Q331.9,1653.6 330.3,1652.1999999999998 Q326.3,1648.6 322.8,1644.1999999999998 Q321.8,1641.1999999999998 324.5,1640.6 Z" fill="#ffffff"/>
<rect x="769.4000000000001" y="1547.7" width="166.9" height="22.1" fill="#84c2f8" stroke="#a9d8fc" stroke-width="2.4"/>
<text x="774.6" y="1563.5" font-size="13.8" fill="#ffffff" text-anchor="start" >Pipeline Stages</text>
<path d="M911.8,1552.1 L926.5999999999999,1552.3 Q929.3,1552.6999999999998 928.4,1555.5 Q924.8,1560.1 920.8,1563.6999999999998 Q919.1999999999999,1565.1 917.5999999999999,1563.6999999999998 Q913.5999999999999,1560.1 910.0999999999999,1555.6999999999998 Q909.0999999999999,1552.6999999999998 911.8,1552.1 Z" fill="#ffffff"/>
<rect x="1064.9" y="1456.9" width="166.9" height="22.2" fill="#84c2f8" stroke="#a9d8fc" stroke-width="2.4"/>
<text x="1070.1000000000001" y="1472.7" font-size="13.8" fill="#ffffff" text-anchor="start" >Entity</text>
<path d="M1207.3,1461.3 L1222.1,1461.5 Q1224.8,1461.8999999999999 1223.8999999999999,1464.7 Q1220.3,1469.3 1216.3,1472.8999999999999 Q1214.7,1474.3 1213.1,1472.8999999999999 Q1209.1,1469.3 1205.6,1464.8999999999999 Q1204.6,1461.8999999999999 1207.3,1461.3 Z" fill="#ffffff"/>
<rect x="924.7" y="1623.7" width="167.1" height="22.1" fill="#84c2f8" stroke="#a9d8fc" stroke-width="2.4"/>
<text x="929.9" y="1639.5" font-size="13.8" fill="#ffffff" text-anchor="start" >Entity</text>
<path d="M1067.3,1628.1 L1082.1,1628.3 Q1084.8,1628.6999999999998 1083.8999999999999,1631.5 Q1080.3,1636.1 1076.3,1639.6999999999998 Q1074.7,1641.1 1073.1,1639.6999999999998 Q1069.1,1636.1 1065.6,1631.6999999999998 Q1064.6,1628.6999999999998 1067.3,1628.1 Z" fill="#ffffff"/>
<rect x="647.3000000000001" y="1686.4" width="166.7" height="21.8" fill="#84c2f8" stroke="#a9d8fc" stroke-width="2.4"/>
<text x="652.5" y="1702.2" font-size="13.8" fill="#ffffff" text-anchor="start" >Entity</text>
<path d="M789.5,1690.8 L804.3,1691.0 Q807.0,1691.3999999999999 806.1,1694.2 Q802.5,1698.8 798.5,1702.3999999999999 Q796.9,1703.8 795.3,1702.3999999999999 Q791.3,1698.8 787.8,1694.3999999999999 Q786.8,1691.3999999999999 789.5,1690.8 Z" fill="#ffffff"/>
<rect x="1661.6000000000001" y="1225.0" width="166.9" height="22.0" fill="#84c2f8" stroke="#a9d8fc" stroke-width="2.4"/>
<text x="1666.8000000000002" y="1240.8" font-size="13.8" fill="#ffffff" text-anchor="start" >Accounts</text>
<path d="M1804.0,1229.3999999999999 L1818.8,1229.6 Q1821.5,1229.9999999999998 1820.6,1232.8 Q1817.0,1237.3999999999999 1813.0,1240.9999999999998 Q1811.4,1242.3999999999999 1809.8,1240.9999999999998 Q1805.8,1237.3999999999999 1802.3,1232.9999999999998 Q1801.3,1229.9999999999998 1804.0,1229.3999999999999 Z" fill="#ffffff"/>
<rect x="1662.5" y="1333.4" width="166.7" height="22.0" fill="#84c2f8" stroke="#a9d8fc" stroke-width="2.4"/>
<text x="1667.7" y="1349.2" font-size="13.8" fill="#ffffff" text-anchor="start" >Owners</text>
<path d="M1804.7,1337.8 L1819.5,1338.0 Q1822.2,1338.3999999999999 1821.3,1341.2 Q1817.7,1345.8 1813.7,1349.3999999999999 Q1812.1000000000001,1350.8 1810.5,1349.3999999999999 Q1806.5,1345.8 1803.0,1341.3999999999999 Q1802.0,1338.3999999999999 1804.7,1337.8 Z" fill="#ffffff"/>
<rect x="1915.8" y="1334.4" width="167.0" height="22.0" fill="#84c2f8" stroke="#a9d8fc" stroke-width="2.4"/>
<text x="1921.0" y="1350.2" font-size="13.8" fill="#ffffff" text-anchor="start" >Contacts</text>
<path d="M2058.3,1338.8 L2073.1000000000004,1339.0 Q2075.8,1339.3999999999999 2074.9,1342.2 Q2071.3,1346.8 2067.3,1350.3999999999999 Q2065.7000000000003,1351.8 2064.1000000000004,1350.3999999999999 Q2060.1000000000004,1346.8 2056.6000000000004,1342.3999999999999 Q2055.6000000000004,1339.3999999999999 2058.3,1338.8 Z" fill="#ffffff"/>
<rect x="1551.8" y="1434.3" width="166.8" height="22.0" fill="#84c2f8" stroke="#a9d8fc" stroke-width="2.4"/>
<text x="1557.0" y="1450.1" font-size="13.8" fill="#ffffff" text-anchor="start" >Entity</text>
<path d="M1694.1,1438.6999999999998 L1708.8999999999999,1438.8999999999999 Q1711.6,1439.2999999999997 1710.6999999999998,1442.1 Q1707.1,1446.6999999999998 1703.1,1450.2999999999997 Q1701.5,1451.6999999999998 1699.8999999999999,1450.2999999999997 Q1695.8999999999999,1446.6999999999998 1692.3999999999999,1442.2999999999997 Q1691.3999999999999,1439.2999999999997 1694.1,1438.6999999999998 Z" fill="#ffffff"/>
<rect x="1526.5" y="1538.6000000000001" width="166.7" height="22.1" fill="#84c2f8" stroke="#a9d8fc" stroke-width="2.4"/>
<text x="1531.7" y="1554.4" font-size="13.8" fill="#ffffff" text-anchor="start" >Entity</text>
<path d="M1668.7,1543.0 L1683.5,1543.2 Q1686.2,1543.6 1685.3,1546.4 Q1681.7,1551.0 1677.7,1554.6 Q1676.1000000000001,1556.0 1674.5,1554.6 Q1670.5,1551.0 1667.0,1546.6 Q1666.0,1543.6 1668.7,1543.0 Z" fill="#ffffff"/>
<rect x="1527.7" y="1646.8" width="166.7" height="22.0" fill="#84c2f8" stroke="#a9d8fc" stroke-width="2.4"/>
<text x="1532.9" y="1662.6" font-size="13.8" fill="#ffffff" text-anchor="start" >Campaigns</text>
<path d="M1669.8999999999999,1651.1999999999998 L1684.6999999999998,1651.3999999999999 Q1687.3999999999999,1651.7999999999997 1686.4999999999998,1654.6 Q1682.8999999999999,1659.1999999999998 1678.8999999999999,1662.7999999999997 Q1677.3,1664.1999999999998 1675.6999999999998,1662.7999999999997 Q1671.6999999999998,1659.1999999999998 1668.1999999999998,1654.7999999999997 Q1667.1999999999998,1651.7999999999997 1669.8999999999999,1651.1999999999998 Z" fill="#ffffff"/>
<rect x="880.4" y="1228.5" width="167.3" height="235.5" fill="#c0e2fd" stroke="#d8e6f2" stroke-width="1.5"/>
<rect x="880.6" y="1206.7" width="166.9" height="20.6" fill="#84c2f8" stroke="#a9d8fc" stroke-width="2.4"/>
<text x="885.8" y="1222.5" font-size="13.8" fill="#ffffff" text-anchor="start" >Deals</text>
<path d="M1026.9,1225.2 L1041.5,1225.2 Q1044.3,1224.8 1043.3,1221.8 Q1038.7,1216.2 1035.7,1213.2 Q1034.2,1211.8 1032.7,1213.2 Q1029.2,1216.7 1025.1000000000001,1221.6000000000001 Q1024.1000000000001,1224.6000000000001 1026.9,1225.2 Z" fill="#ffffff"/>
<text x="887.5" y="1248.5" font-size="13.8" fill="#ffffff" text-anchor="start" >Dimensions</text>
<text x="887.5" y="1264.53" font-size="13.8" fill="#ffffff" text-anchor="start" >- deal_ID</text>
<text x="887.5" y="1280.56" font-size="13.8" fill="#ffffff" text-anchor="start" >- deal_value</text>
<text x="887.5" y="1296.59" font-size="13.8" fill="#ffffff" text-anchor="start" >- deal_category</text>
<text x="887.5" y="1312.62" font-size="13.8" fill="#ffffff" text-anchor="start" >- sales_stage</text>
<text x="887.5" y="1328.65" font-size="13.8" fill="#ffffff" text-anchor="start" >- account_ID</text>
<text x="887.5" y="1344.68" font-size="13.8" fill="#ffffff" text-anchor="start" >- closing_date</text>
<text x="887.5" y="1360.71" font-size="13.8" fill="#ffffff" text-anchor="start" >- ...</text>
<text x="887.5" y="1376.74" font-size="13.8" fill="#ffffff" text-anchor="start" >Measures</text>
<text x="887.5" y="1392.77" font-size="13.8" fill="#ffffff" text-anchor="start" >- #total_deal_value</text>
<text x="887.5" y="1408.8" font-size="13.8" fill="#ffffff" text-anchor="start" >- #value_per_engage...</text>
<text x="887.5" y="1424.83" font-size="13.8" fill="#ffffff" text-anchor="start" >- #past_value_account</text>
<text x="887.5" y="1440.8600000000001" font-size="13.8" fill="#ffffff" text-anchor="start" >- #frequency_past_de...</text>
<rect x="441.4" y="1450.6" width="167.2" height="235.8" fill="#c0e2fd" stroke="#d8e6f2" stroke-width="1.5"/>
<rect x="441.59999999999997" y="1427.6000000000001" width="166.8" height="21.8" fill="#84c2f8" stroke="#a9d8fc" stroke-width="2.4"/>
<text x="446.79999999999995" y="1443.4" font-size="13.8" fill="#ffffff" text-anchor="start" >Sales Engagements</text>
<path d="M587.8000000000001,1446.1000000000001 L602.4,1446.1000000000001 Q605.2,1445.7 604.2,1442.7 Q599.6,1437.1000000000001 596.6,1434.1000000000001 Q595.1,1432.7 593.6,1434.1000000000001 Q590.1,1437.6000000000001 586.0,1442.5000000000002 Q585.0,1445.5000000000002 587.8000000000001,1446.1000000000001 Z" fill="#ffffff"/>
<text x="448.5" y="1469.4" font-size="13.8" fill="#ffffff" text-anchor="start" >Dimensions</text>
<text x="448.5" y="1485.43" font-size="13.8" fill="#ffffff" text-anchor="start" >- engagement_ID</text>
<text x="448.5" y="1501.46" font-size="13.8" fill="#ffffff" text-anchor="start" >- engagement_date</text>
<text x="448.5" y="1517.49" font-size="13.8" fill="#ffffff" text-anchor="start" >- engagement_type</text>
<text x="448.5" y="1533.52" font-size="13.8" fill="#ffffff" text-anchor="start" >- engagement_source</text>
<text x="448.5" y="1549.5500000000002" font-size="13.8" fill="#ffffff" text-anchor="start" >- [fk] pipeline_stage</text>
<text x="448.5" y="1565.5800000000002" font-size="13.8" fill="#ffffff" text-anchor="start" >- [fk] contact_ID</text>
<text x="448.5" y="1581.6100000000001" font-size="13.8" fill="#ffffff" text-anchor="start" >- last_engaged_date</text>
<text x="448.5" y="1597.64" font-size="13.8" fill="#ffffff" text-anchor="start" >- ...</text>
<text x="448.5" y="1613.67" font-size="13.8" fill="#ffffff" text-anchor="start" >Measures</text>
<text x="448.5" y="1629.7" font-size="13.8" fill="#ffffff" text-anchor="start" >- #prev_engagements</text>
<text x="448.5" y="1645.73" font-size="13.8" fill="#ffffff" text-anchor="start" >- #days_from_last_en..</text>
<text x="448.5" y="1661.7600000000002" font-size="13.8" fill="#ffffff" text-anchor="start" >- #frequency_of_enga..</text>
<text x="448.5" y="1677.7900000000002" font-size="13.8" fill="#ffffff" text-anchor="start" >- ...</text>
<rect x="1786.3" y="1461.8" width="167.1" height="235.4" fill="#c0e2fd" stroke="#d8e6f2" stroke-width="1.5"/>
<rect x="1786.5" y="1438.8" width="166.7" height="21.8" fill="#84c2f8" stroke="#a9d8fc" stroke-width="2.4"/>
<text x="1791.7" y="1454.6" font-size="13.8" fill="#ffffff" text-anchor="start" >Sales Engagements</text>
<path d="M1932.6000000000001,1457.3 L1947.2,1457.3 Q1950.0,1456.8999999999999 1949.0,1453.8999999999999 Q1944.4,1448.3 1941.4,1445.3 Q1939.9,1443.8999999999999 1938.4,1445.3 Q1934.9,1448.8 1930.8000000000002,1453.7 Q1929.8000000000002,1456.7 1932.6000000000001,1457.3 Z" fill="#ffffff"/>
<text x="1793.3999999999999" y="1480.6" font-size="13.8" fill="#ffffff" text-anchor="start" >Dimensions</text>
<text x="1793.3999999999999" y="1496.6299999999999" font-size="13.8" fill="#ffffff" text-anchor="start" >- engagement_ID</text>
<text x="1793.3999999999999" y="1512.6599999999999" font-size="13.8" fill="#ffffff" text-anchor="start" >- engagement_date</text>
<text x="1793.3999999999999" y="1528.6899999999998" font-size="13.8" fill="#ffffff" text-anchor="start" >- engagement_type</text>
<text x="1793.3999999999999" y="1544.7199999999998" font-size="13.8" fill="#ffffff" text-anchor="start" >- engagement_source</text>
<text x="1793.3999999999999" y="1560.75" font-size="13.8" fill="#ffffff" text-anchor="start" >- [fk] pipeline_stage</text>
<text x="1793.3999999999999" y="1576.78" font-size="13.8" fill="#ffffff" text-anchor="start" >- [fk] contact_ID</text>
<text x="1793.3999999999999" y="1592.81" font-size="13.8" fill="#ffffff" text-anchor="start" >- last_engaged_date</text>
<text x="1793.3999999999999" y="1608.84" font-size="13.8" fill="#ffffff" text-anchor="start" >- ...</text>
<text x="1793.3999999999999" y="1624.87" font-size="13.8" fill="#ffffff" text-anchor="start" >Measures</text>
<text x="1793.3999999999999" y="1640.8999999999999" font-size="13.8" fill="#ffffff" text-anchor="start" >- #prev_engagements</text>
<text x="1793.3999999999999" y="1656.9299999999998" font-size="13.8" fill="#ffffff" text-anchor="start" >- #days_from_last_en..</text>
<text x="1793.3999999999999" y="1672.96" font-size="13.8" fill="#ffffff" text-anchor="start" >- #frequency_of_enga..</text>
<text x="1793.3999999999999" y="1688.99" font-size="13.8" fill="#ffffff" text-anchor="start" >- ...</text>
<path d="M1048.7,1219.4 C1080,1225 1086,1240 1086,1290 L1086,1460 C1086,1530 1040,1560 937.5,1559.4" fill="none" stroke="#9ed2fc" stroke-width="2.6"/>
<text transform="translate(403.16,1780.8) scale(1,1.01)" font-size="43.8" fill="#238ae6" stroke="#238ae6" stroke-width="0.7">Core Semantic Model A</text>
<text transform="translate(1566.74,1775.2) scale(1,1.01)" font-size="43.8" fill="#238ae6" stroke="#238ae6" stroke-width="0.7">Core Semantic Model B</text>
<clipPath id="c10"><rect x="350.7" y="1984.3999999999999" width="75.5" height="108.8"/></clipPath><g clip-path="url(#c10)" stroke="#a2d5fd" stroke-width="1.2"><line x1="348.24" y1="1983.1" x2="251.75" y2="2094.1"/><line x1="365.20" y1="1983.1" x2="268.71" y2="2094.1"/><line x1="382.16" y1="1983.1" x2="285.67" y2="2094.1"/><line x1="399.12" y1="1983.1" x2="302.63" y2="2094.1"/><line x1="416.08" y1="1983.1" x2="319.59" y2="2094.1"/><line x1="433.04" y1="1983.1" x2="336.55" y2="2094.1"/><line x1="450.00" y1="1983.1" x2="353.51" y2="2094.1"/><line x1="466.96" y1="1983.1" x2="370.47" y2="2094.1"/><line x1="483.92" y1="1983.1" x2="387.43" y2="2094.1"/><line x1="500.88" y1="1983.1" x2="404.39" y2="2094.1"/><line x1="517.84" y1="1983.1" x2="421.35" y2="2094.1"/><line x1="534.80" y1="1983.1" x2="438.31" y2="2094.1"/></g>
<clipPath id="c11"><rect x="350.7" y="1984.3999999999999" width="75.5" height="108.8"/></clipPath><g clip-path="url(#c11)" stroke="#a2d5fd" stroke-width="1.2"><line x1="219.30" y1="1983.1" x2="346.99" y2="2094.1"/><line x1="238.80" y1="1983.1" x2="366.49" y2="2094.1"/><line x1="258.30" y1="1983.1" x2="385.99" y2="2094.1"/><line x1="277.80" y1="1983.1" x2="405.49" y2="2094.1"/><line x1="297.30" y1="1983.1" x2="424.99" y2="2094.1"/><line x1="316.80" y1="1983.1" x2="444.49" y2="2094.1"/><line x1="336.30" y1="1983.1" x2="463.99" y2="2094.1"/><line x1="355.80" y1="1983.1" x2="483.49" y2="2094.1"/><line x1="375.30" y1="1983.1" x2="502.99" y2="2094.1"/><line x1="394.80" y1="1983.1" x2="522.49" y2="2094.1"/><line x1="414.30" y1="1983.1" x2="541.99" y2="2094.1"/><line x1="433.80" y1="1983.1" x2="561.49" y2="2094.1"/></g>
<g transform="translate(349.4,1983.1)"><rect x="1.3" y="1.3" width="75.5" height="108.8" fill="none" stroke="#1a6dc2" stroke-width="2.7"/><rect x="9.2" y="9.6" width="7.9" height="7.9" rx="0.6" fill="#fefefe" stroke="#1a6dc2" stroke-width="2.3"/><rect x="26.4" y="9.6" width="7.9" height="7.9" rx="0.6" fill="#fefefe" stroke="#1a6dc2" stroke-width="2.3"/><rect x="43.5" y="9.6" width="7.9" height="7.9" rx="0.6" fill="#fefefe" stroke="#1a6dc2" stroke-width="2.3"/><rect x="60.7" y="9.6" width="7.9" height="7.9" rx="0.6" fill="#fefefe" stroke="#1a6dc2" stroke-width="2.3"/><line x1="9.6" y1="27" x2="68.8" y2="27" stroke="#1a6dc2" stroke-width="2.5" stroke-linecap="round"/><line x1="9.6" y1="43.7" x2="68.8" y2="43.7" stroke="#1a6dc2" stroke-width="2.5" stroke-linecap="round"/><line x1="9.6" y1="61.2" x2="68.8" y2="61.2" stroke="#1a6dc2" stroke-width="2.5" stroke-linecap="round"/><line x1="9.6" y1="78" x2="68.8" y2="78" stroke="#1a6dc2" stroke-width="2.5" stroke-linecap="round"/><line x1="9.6" y1="95" x2="68.8" y2="95" stroke="#1a6dc2" stroke-width="2.5" stroke-linecap="round"/></g>
<clipPath id="c12"><rect x="871.5" y="1982.7" width="75.5" height="108.8"/></clipPath><g clip-path="url(#c12)" stroke="#a2d5fd" stroke-width="1.2"><line x1="858.52" y1="1981.4" x2="762.02" y2="2092.4"/><line x1="875.48" y1="1981.4" x2="778.98" y2="2092.4"/><line x1="892.44" y1="1981.4" x2="795.94" y2="2092.4"/><line x1="909.40" y1="1981.4" x2="812.90" y2="2092.4"/><line x1="926.36" y1="1981.4" x2="829.86" y2="2092.4"/><line x1="943.32" y1="1981.4" x2="846.82" y2="2092.4"/><line x1="960.28" y1="1981.4" x2="863.78" y2="2092.4"/><line x1="977.24" y1="1981.4" x2="880.74" y2="2092.4"/><line x1="994.20" y1="1981.4" x2="897.70" y2="2092.4"/><line x1="1011.16" y1="1981.4" x2="914.66" y2="2092.4"/><line x1="1028.12" y1="1981.4" x2="931.62" y2="2092.4"/><line x1="1045.08" y1="1981.4" x2="948.58" y2="2092.4"/></g>
<clipPath id="c13"><rect x="871.5" y="1982.7" width="75.5" height="108.8"/></clipPath><g clip-path="url(#c13)" stroke="#a2d5fd" stroke-width="1.2"><line x1="724.34" y1="1981.4" x2="852.03" y2="2092.4"/><line x1="743.84" y1="1981.4" x2="871.53" y2="2092.4"/><line x1="763.34" y1="1981.4" x2="891.03" y2="2092.4"/><line x1="782.84" y1="1981.4" x2="910.53" y2="2092.4"/><line x1="802.34" y1="1981.4" x2="930.03" y2="2092.4"/><line x1="821.84" y1="1981.4" x2="949.53" y2="2092.4"/><line x1="841.34" y1="1981.4" x2="969.03" y2="2092.4"/><line x1="860.84" y1="1981.4" x2="988.53" y2="2092.4"/><line x1="880.34" y1="1981.4" x2="1008.03" y2="2092.4"/><line x1="899.84" y1="1981.4" x2="1027.53" y2="2092.4"/><line x1="919.34" y1="1981.4" x2="1047.03" y2="2092.4"/><line x1="938.84" y1="1981.4" x2="1066.53" y2="2092.4"/><line x1="958.34" y1="1981.4" x2="1086.03" y2="2092.4"/></g>
<g transform="translate(870.2,1981.4)"><rect x="1.3" y="1.3" width="75.5" height="108.8" fill="none" stroke="#1a6dc2" stroke-width="2.7"/><rect x="9.2" y="9.6" width="7.9" height="7.9" rx="0.6" fill="#fefefe" stroke="#1a6dc2" stroke-width="2.3"/><rect x="26.4" y="9.6" width="7.9" height="7.9" rx="0.6" fill="#fefefe" stroke="#1a6dc2" stroke-width="2.3"/><rect x="43.5" y="9.6" width="7.9" height="7.9" rx="0.6" fill="#fefefe" stroke="#1a6dc2" stroke-width="2.3"/><rect x="60.7" y="9.6" width="7.9" height="7.9" rx="0.6" fill="#fefefe" stroke="#1a6dc2" stroke-width="2.3"/><line x1="9.6" y1="27" x2="68.8" y2="27" stroke="#1a6dc2" stroke-width="2.5" stroke-linecap="round"/><line x1="9.6" y1="43.7" x2="68.8" y2="43.7" stroke="#1a6dc2" stroke-width="2.5" stroke-linecap="round"/><line x1="9.6" y1="61.2" x2="68.8" y2="61.2" stroke="#1a6dc2" stroke-width="2.5" stroke-linecap="round"/><line x1="9.6" y1="78" x2="68.8" y2="78" stroke="#1a6dc2" stroke-width="2.5" stroke-linecap="round"/><line x1="9.6" y1="95" x2="68.8" y2="95" stroke="#1a6dc2" stroke-width="2.5" stroke-linecap="round"/></g>
<clipPath id="c14"><rect x="1328.3" y="1983.8" width="75.5" height="108.8"/></clipPath><g clip-path="url(#c14)" stroke="#a2d5fd" stroke-width="1.2"><line x1="1315.48" y1="1982.5" x2="1218.99" y2="2093.5"/><line x1="1332.44" y1="1982.5" x2="1235.95" y2="2093.5"/><line x1="1349.40" y1="1982.5" x2="1252.91" y2="2093.5"/><line x1="1366.36" y1="1982.5" x2="1269.87" y2="2093.5"/><line x1="1383.32" y1="1982.5" x2="1286.83" y2="2093.5"/><line x1="1400.28" y1="1982.5" x2="1303.79" y2="2093.5"/><line x1="1417.24" y1="1982.5" x2="1320.75" y2="2093.5"/><line x1="1434.20" y1="1982.5" x2="1337.71" y2="2093.5"/><line x1="1451.16" y1="1982.5" x2="1354.67" y2="2093.5"/><line x1="1468.12" y1="1982.5" x2="1371.63" y2="2093.5"/><line x1="1485.08" y1="1982.5" x2="1388.59" y2="2093.5"/><line x1="1502.04" y1="1982.5" x2="1405.55" y2="2093.5"/></g>
<clipPath id="c15"><rect x="1328.3" y="1983.8" width="75.5" height="108.8"/></clipPath><g clip-path="url(#c15)" stroke="#a2d5fd" stroke-width="1.2"><line x1="1193.61" y1="1982.5" x2="1321.30" y2="2093.5"/><line x1="1213.11" y1="1982.5" x2="1340.80" y2="2093.5"/><line x1="1232.61" y1="1982.5" x2="1360.30" y2="2093.5"/><line x1="1252.11" y1="1982.5" x2="1379.80" y2="2093.5"/><line x1="1271.61" y1="1982.5" x2="1399.30" y2="2093.5"/><line x1="1291.11" y1="1982.5" x2="1418.80" y2="2093.5"/><line x1="1310.61" y1="1982.5" x2="1438.30" y2="2093.5"/><line x1="1330.11" y1="1982.5" x2="1457.80" y2="2093.5"/><line x1="1349.61" y1="1982.5" x2="1477.30" y2="2093.5"/><line x1="1369.11" y1="1982.5" x2="1496.80" y2="2093.5"/><line x1="1388.61" y1="1982.5" x2="1516.30" y2="2093.5"/><line x1="1408.11" y1="1982.5" x2="1535.80" y2="2093.5"/></g>
<g transform="translate(1327,1982.5)"><rect x="1.3" y="1.3" width="75.5" height="108.8" fill="none" stroke="#1a6dc2" stroke-width="2.7"/><rect x="9.2" y="9.6" width="7.9" height="7.9" rx="0.6" fill="#fefefe" stroke="#1a6dc2" stroke-width="2.3"/><rect x="26.4" y="9.6" width="7.9" height="7.9" rx="0.6" fill="#fefefe" stroke="#1a6dc2" stroke-width="2.3"/><rect x="43.5" y="9.6" width="7.9" height="7.9" rx="0.6" fill="#fefefe" stroke="#1a6dc2" stroke-width="2.3"/><rect x="60.7" y="9.6" width="7.9" height="7.9" rx="0.6" fill="#fefefe" stroke="#1a6dc2" stroke-width="2.3"/><line x1="9.6" y1="27" x2="68.8" y2="27" stroke="#1a6dc2" stroke-width="2.5" stroke-linecap="round"/><line x1="9.6" y1="43.7" x2="68.8" y2="43.7" stroke="#1a6dc2" stroke-width="2.5" stroke-linecap="round"/><line x1="9.6" y1="61.2" x2="68.8" y2="61.2" stroke="#1a6dc2" stroke-width="2.5" stroke-linecap="round"/><line x1="9.6" y1="78" x2="68.8" y2="78" stroke="#1a6dc2" stroke-width="2.5" stroke-linecap="round"/><line x1="9.6" y1="95" x2="68.8" y2="95" stroke="#1a6dc2" stroke-width="2.5" stroke-linecap="round"/></g>
<clipPath id="c16"><rect x="1873.6" y="1986.0" width="75.5" height="108.8"/></clipPath><g clip-path="url(#c16)" stroke="#a2d5fd" stroke-width="1.2"><line x1="1856.29" y1="1984.7" x2="1759.80" y2="2095.7"/><line x1="1873.25" y1="1984.7" x2="1776.76" y2="2095.7"/><line x1="1890.21" y1="1984.7" x2="1793.72" y2="2095.7"/><line x1="1907.17" y1="1984.7" x2="1810.68" y2="2095.7"/><line x1="1924.13" y1="1984.7" x2="1827.64" y2="2095.7"/><line x1="1941.09" y1="1984.7" x2="1844.60" y2="2095.7"/><line x1="1958.05" y1="1984.7" x2="1861.56" y2="2095.7"/><line x1="1975.01" y1="1984.7" x2="1878.52" y2="2095.7"/><line x1="1991.97" y1="1984.7" x2="1895.48" y2="2095.7"/><line x1="2008.93" y1="1984.7" x2="1912.44" y2="2095.7"/><line x1="2025.89" y1="1984.7" x2="1929.40" y2="2095.7"/><line x1="2042.85" y1="1984.7" x2="1946.36" y2="2095.7"/><line x1="2059.81" y1="1984.7" x2="1963.32" y2="2095.7"/></g>
<clipPath id="c17"><rect x="1873.6" y="1986.0" width="75.5" height="108.8"/></clipPath><g clip-path="url(#c17)" stroke="#a2d5fd" stroke-width="1.2"><line x1="1742.14" y1="1984.7" x2="1869.83" y2="2095.7"/><line x1="1761.64" y1="1984.7" x2="1889.33" y2="2095.7"/><line x1="1781.14" y1="1984.7" x2="1908.83" y2="2095.7"/><line x1="1800.64" y1="1984.7" x2="1928.33" y2="2095.7"/><line x1="1820.14" y1="1984.7" x2="1947.83" y2="2095.7"/><line x1="1839.64" y1="1984.7" x2="1967.33" y2="2095.7"/><line x1="1859.14" y1="1984.7" x2="1986.83" y2="2095.7"/><line x1="1878.64" y1="1984.7" x2="2006.33" y2="2095.7"/><line x1="1898.14" y1="1984.7" x2="2025.83" y2="2095.7"/><line x1="1917.64" y1="1984.7" x2="2045.33" y2="2095.7"/><line x1="1937.14" y1="1984.7" x2="2064.83" y2="2095.7"/><line x1="1956.64" y1="1984.7" x2="2084.33" y2="2095.7"/></g>
<g transform="translate(1872.3,1984.7)"><rect x="1.3" y="1.3" width="75.5" height="108.8" fill="none" stroke="#1a6dc2" stroke-width="2.7"/><rect x="9.2" y="9.6" width="7.9" height="7.9" rx="0.6" fill="#fefefe" stroke="#1a6dc2" stroke-width="2.3"/><rect x="26.4" y="9.6" width="7.9" height="7.9" rx="0.6" fill="#fefefe" stroke="#1a6dc2" stroke-width="2.3"/><rect x="43.5" y="9.6" width="7.9" height="7.9" rx="0.6" fill="#fefefe" stroke="#1a6dc2" stroke-width="2.3"/><rect x="60.7" y="9.6" width="7.9" height="7.9" rx="0.6" fill="#fefefe" stroke="#1a6dc2" stroke-width="2.3"/><line x1="9.6" y1="27" x2="68.8" y2="27" stroke="#1a6dc2" stroke-width="2.5" stroke-linecap="round"/><line x1="9.6" y1="43.7" x2="68.8" y2="43.7" stroke="#1a6dc2" stroke-width="2.5" stroke-linecap="round"/><line x1="9.6" y1="61.2" x2="68.8" y2="61.2" stroke="#1a6dc2" stroke-width="2.5" stroke-linecap="round"/><line x1="9.6" y1="78" x2="68.8" y2="78" stroke="#1a6dc2" stroke-width="2.5" stroke-linecap="round"/><line x1="9.6" y1="95" x2="68.8" y2="95" stroke="#1a6dc2" stroke-width="2.5" stroke-linecap="round"/></g>
<text transform="translate(879.41,2162.9) scale(1,1.01)" font-size="43.8" fill="#238ae6" stroke="#238ae6" stroke-width="0.7">Data Contracts at Source</text>
<rect x="1383.9" y="2124.7" width="42.1" height="42.3" rx="9.5" fill="url(#gck)" stroke="#07990f" stroke-width="1.6"/>
<path d="M1390.07,2144.19 L1395.9,2144.19 L1401.56,2152.58 L1413.41,2132.15 L1419.07,2132.15 L1401.56,2161.33 Z" fill="#ffffff"/>
<text transform="translate(353.41,2252.1) scale(1,1.01)" font-size="38.8" fill="#de3032" stroke="#de3032" stroke-width="0.6">Data</text>
<text transform="translate(297.92,2295.6) scale(1,1.01)" font-size="38.8" fill="#de3032" stroke="#de3032" stroke-width="0.6">Warehouse</text>
<text transform="translate(820.38,2252) scale(1,1.01)" font-size="38.8" fill="#de3032" stroke="#de3032" stroke-width="0.6">Raw Data</text>
<text transform="translate(864.02,2295.6) scale(1,1.01)" font-size="38.8" fill="#de3032" stroke="#de3032" stroke-width="0.6">Lake</text>
<text transform="translate(1269.49,2253.3) scale(1,1.01)" font-size="38.8" fill="#de3032" stroke="#de3032" stroke-width="0.6">Operational</text>
<text transform="translate(1276.54,2296.7) scale(1,1.01)" font-size="38.8" fill="#de3032" stroke="#de3032" stroke-width="0.6">Data Store</text>
<text transform="translate(1882.11,2250.8) scale(1,1.01)" font-size="38.8" fill="#de3032" stroke="#de3032" stroke-width="0.6">Data</text>
<text transform="translate(1828.76,2295) scale(1,1.01)" font-size="38.8" fill="#de3032" stroke="#de3032" stroke-width="0.6">Lakehouse</text>
<text transform="translate(1965.26,2373) scale(1,1.01)" font-size="28.7" fill="#b1b6bc" stroke="#b1b6bc" stroke-width="0.3">moderndata101.com</text>
<path d="M2371,396 L2348.5,439 L2390,443.5 Z" fill="#dfe2e6" stroke="#cdd1d6" stroke-width="2" stroke-linejoin="round"/>
<line x1="2370" y1="398" x2="2369.5" y2="2174.5" stroke="#d3d7dc" stroke-width="3.8"/>
<text transform="translate(2340.8,1548.86) rotate(-90) scale(1,1.01)" font-size="43.8" fill="#238ae6" stroke="#238ae6" stroke-width="0.7">Data "pulled up" on demand</text>
</svg></body></html>
